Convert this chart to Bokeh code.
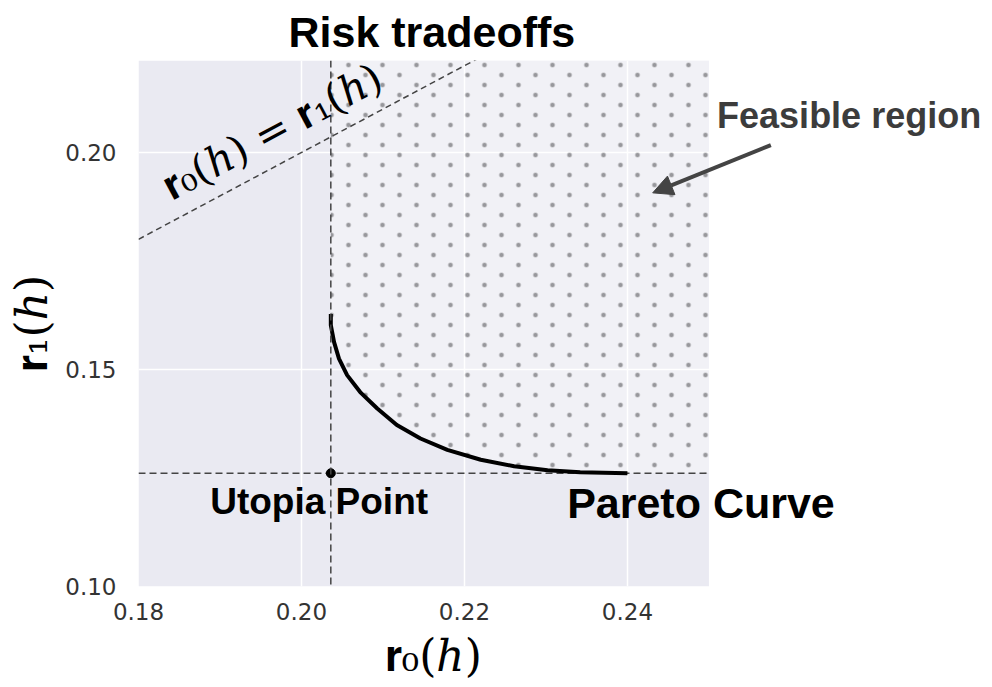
import base64
from bokeh.plotting import figure
from bokeh.models import (FixedTicker, PrintfTickFormatter, Label, Title,
                          Arrow, NormalHead, Range1d, Span, BoxAnnotation, ImageURLTexture)
from bokeh.embed import file_html
from bokeh.resources import INLINE

# ---- data ----
pareto_r0 = [0.2036, 0.2036, 0.2040, 0.2046, 0.2056, 0.2072, 0.2093, 0.2117,
             0.2146, 0.2179, 0.2220, 0.2261, 0.2302, 0.2342, 0.2400]
pareto_r1 = [0.1628, 0.1602, 0.1563, 0.1525, 0.1487, 0.1448, 0.1410, 0.1372,
             0.1341, 0.1315, 0.1292, 0.1277, 0.1268, 0.1263, 0.1261]
utopia_r0 = 0.2036
utopia_r1 = 0.1261
x_ticks = [0.18, 0.20, 0.22, 0.24]
y_ticks = [0.10, 0.15, 0.20]
x_lim = (0.18, 0.25)
y_lim = (0.10, 0.2212)
diag_vals = [0.18, 0.25]

# view extends to the right of the axes box so that outside texts are not clipped
X_VIEW_END = 0.2848

SANS = "Liberation Sans"
MATH_FONT = "DejaVu Serif"

# staggered dot texture for the feasible region
dot_svg = ('<svg xmlns="http://www.w3.org/2000/svg" width="34" height="20">'
           '<circle cx="8.5" cy="5" r="2.8" fill="#b0b0b4" fill-opacity="0.5"/>'
           '<circle cx="8.5" cy="5" r="2.0" fill="#98989c"/>'
           '<circle cx="25.5" cy="15" r="2.8" fill="#b0b0b4" fill-opacity="0.5"/>'
           '<circle cx="25.5" cy="15" r="2.0" fill="#98989c"/>'
           '</svg>')
dot_url = "data:image/svg+xml;base64," + base64.b64encode(dot_svg.encode()).decode()

p = figure(width=992, height=687, output_backend="svg", toolbar_location=None,
           x_range=Range1d(x_lim[0], X_VIEW_END), y_range=Range1d(*y_lim),
           min_border_left=138, min_border_right=0, min_border_top=58,
           min_border_bottom=101)

p.title.text = "Risk tradeoffs"
p.title.text_font = SANS
p.title.text_font_size = "43px"
p.title.text_font_style = "bold"
p.title.align = "left"
p.title.offset = 150
p.title.text_color = "black"

p.background_fill_color = "white"
p.border_fill_color = "white"
p.outline_line_color = None

# axes box background (seaborn darkgrid)
p.add_layout(BoxAnnotation(left=x_lim[0], right=x_lim[1], fill_color="#EAEAF2",
                           fill_alpha=1.0, line_color=None, level="image"))

for ax in (p.xaxis[0], p.yaxis[0]):
    ax.axis_line_color = None
    ax.major_tick_line_color = None
    ax.minor_tick_line_color = None
    ax.major_label_text_font = "DejaVu Sans"
    ax.major_label_text_font_size = "23px"
    ax.major_label_text_color = "#333333"
    ax.formatter = PrintfTickFormatter(format="%.2f")
p.xaxis[0].ticker = FixedTicker(ticks=x_ticks)
p.yaxis[0].ticker = FixedTicker(ticks=y_ticks)
p.xaxis[0].major_label_standoff = 10
p.yaxis[0].major_label_standoff = 16
p.yaxis[0].axis_label = "𝐫₁(ℎ)"
p.yaxis[0].axis_label_text_font = MATH_FONT
p.yaxis[0].axis_label_text_font_size = "44px"
p.yaxis[0].axis_label_text_font_style = "normal"
p.yaxis[0].axis_label_text_color = "black"

p.add_layout(Title(text="𝐫₀(ℎ)", align="left", offset=246, text_font=MATH_FONT,
                   text_font_size="44px", text_font_style="normal", text_color="black"),
             "below")

p.grid.grid_line_color = "white"
p.grid.grid_line_width = 1.5
p.xgrid.ticker = FixedTicker(ticks=x_ticks)
p.ygrid.ticker = FixedTicker(ticks=y_ticks)

# feasible region (above the Pareto curve, right of utopia)
reg_x = pareto_r0 + [x_lim[1], x_lim[1], utopia_r0]
reg_y = pareto_r1 + [utopia_r1, y_lim[1], y_lim[1]]
p.patch(reg_x, reg_y, fill_color="white", fill_alpha=0.35, line_color=None,
        hatch_pattern="dots", hatch_extra={"dots": ImageURLTexture(url=dot_url)})

# r0 = r1 line
p.line(diag_vals, diag_vals, line_color="#444444", line_width=1.5, line_dash="6 4")

# utopia cross-hair
p.add_layout(Span(location=utopia_r0, dimension="height", line_color="#444444",
                  line_width=1.5, line_dash="7 4"))
p.line(list(x_lim), [utopia_r1, utopia_r1], line_color="#444444", line_width=1.5,
       line_dash="7 4")

# Pareto curve
p.line(pareto_r0, pareto_r1, line_color="black", line_width=4)

# utopia point
p.scatter([utopia_r0], [utopia_r1], size=9, color="black")

# labels
p.add_layout(Label(x=0.1888, y=0.1196, text="Utopia Point", text_font=SANS,
                   text_font_size="37px", text_font_style="bold", text_color="black",
                   text_baseline="middle", text_align="left"))
p.add_layout(Label(x=0.2326, y=0.1192, text="Pareto Curve", text_font=SANS,
                   text_font_size="43px", text_font_style="bold", text_color="black",
                   text_baseline="middle", text_align="left"))
p.add_layout(Label(x=0.2510, y=0.2086, text="Feasible region", text_font=SANS,
                   text_font_size="36px", text_font_style="bold", text_color="#3c3c3c",
                   text_baseline="middle", text_align="left"))
p.add_layout(Label(x=0.1964, y=0.2048, text="𝐫₀(ℎ) = 𝐫₁(ℎ)", text_font=MATH_FONT,
                   text_font_size="41px", text_color="black", angle=0.49,
                   text_baseline="middle", text_align="center"))

p.add_layout(Arrow(x_start=0.2576, y_start=0.2017, x_end=0.2431, y_end=0.1907,
                   line_color="#444444", line_width=4,
                   end=NormalHead(size=20, fill_color="#444444", line_color="#444444")))

open("out.html", "w").write(file_html(p, INLINE))
